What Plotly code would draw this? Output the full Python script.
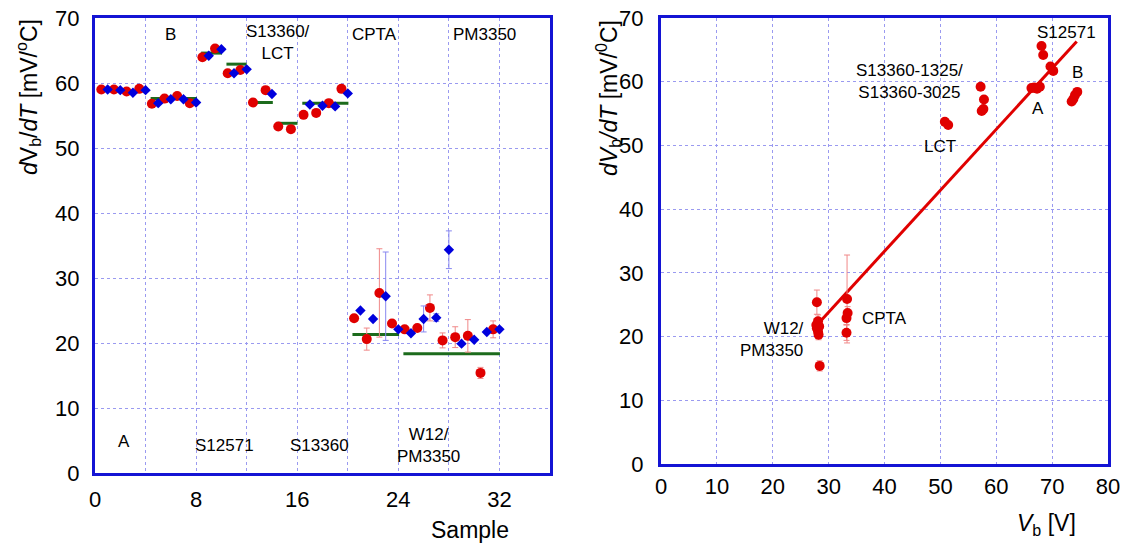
import plotly.graph_objects as go

# ---------------- Left panel data ----------------
samples = list(range(1, 33))
red_vals = [59.0, 59.0, 58.7, 59.1, 56.8, 57.6, 58.0, 56.9, 63.95, 65.3, 61.5, 62.0,
            57.0, 58.9, 53.3, 52.9, 55.1, 55.4, 56.9, 59.1,
            23.8, 20.6, 27.7, 23.0, 22.1, 22.3, 25.4, 20.4, 20.9, 21.1, 15.4, 22.1]
red_err = [0] * 20 + [0, 1.7, 6.8, 0, 0, 0, 2.0, 1.15, 1.6, 2.5, 0.85, 1.3]
blue_vals = [59.0, 58.9, 58.5, 58.9, 56.9, 57.5, 57.5, 57.0, 64.2, 65.2, 61.5, 62.1,
             None, 58.3, None, None, 56.7, 56.5, 56.4, 58.4,
             25.0, 23.7, 27.2, 22.1, 21.5, 23.7, 23.9, 34.35, 19.9, 20.5, 21.7, 22.1]
blue_err = [0] * 22 + [6.8, 0, 0, 2.0, 0.6, 2.9, 0, 0, 0, 0]
red_offset = 0.5

mean_x0 = [4.4, 8.4, 10.4, 12.5, 14.45, 16.4, 20.37, 24.4]
mean_x1 = [8.07, 10.05, 12.0, 14.07, 16.02, 20.05, 24.06, 32.04]
mean_y = [57.6, 64.6, 62.9, 57.0, 53.8, 56.9, 21.3, 18.35]

left_labels = ["A", "B", "S12571", "S13360/<br>LCT", "S13360", "CPTA", "W12/<br>PM3350", "PM3350"]
left_lab_x = [2.3, 6.0, 10.25, 14.5, 17.8, 22.1, 26.4, 30.8]
left_lab_y = [4.9, 67.4, 4.3, 66.2, 4.3, 67.4, 4.2, 67.4]

# ---------------- Right panel data ----------------
vb = [66.3, 66.8, 67.3, 67.8,            # A
      68.1, 68.4, 69.7, 70.2,            # S12571
      73.5, 73.8, 74.1, 74.5,            # B
      57.2, 57.8, 57.7, 57.4,            # S13360
      50.8, 51.4,                        # LCT
      33.3, 33.4, 33.2, 33.2,            # CPTA
      27.9, 28.1, 27.8, 28.3, 27.9, 28.1, 28.2, 28.4]  # W12/PM3350
dvdt = [59.0, 59.1, 58.9, 59.2,
        65.6, 64.2, 62.4, 61.7,
        56.9, 57.3, 57.9, 58.4,
        59.2, 57.2, 55.7, 55.4,
        53.7, 53.2,
        25.9, 23.7, 22.9, 20.6,
        25.4, 22.4, 21.8, 21.6, 21.3, 20.8, 20.3, 15.4]
dvdt_err = [0, 0, 0, 0,
            0, 0, 0, 0,
            0, 0, 0, 0,
            0, 0, 0, 0,
            0, 0,
            6.9, 1.0, 1.0, 1.2,
            1.9, 1.0, 1.0, 0.8, 0.8, 0.8, 0.8, 0.8]
fit_x = [28.4, 74.4]
fit_y = [22.3, 66.3]

right_labels = ["S12571", "S13360-1325/<br>S13360-3025", "B", "A", "LCT", "CPTA", "W12/<br>PM3350"]
right_lab_x = [72.5, 44.5, 74.6, 67.5, 49.9, 40.0, 26.0]
right_lab_y = [67.8, 60.0, 61.4, 55.8, 49.8, 22.9, 19.5]
right_lab_anchor = ["center", "center", "center", "center", "center", "center", "right"]

# ---------------- Styles ----------------
FONT = "Liberation Sans, Arial, sans-serif"
RED = "#e00000"
BLUE = "#0000dd"
GREEN = "#1c6b1c"
FRAME = "#1414d4"
GRID = "#9a9af0"

fig = go.Figure()

# mean lines
gx, gy = [], []
for a, b, c in zip(mean_x0, mean_x1, mean_y):
    gx += [a, b, None]
    gy += [c, c, None]
fig.add_trace(go.Scatter(x=gx, y=gy, mode="lines", line=dict(color=GREEN, width=3),
                         xaxis="x", yaxis="y", showlegend=False, hoverinfo="skip"))

fig.add_trace(go.Scatter(
    x=[s - red_offset for s in samples], y=red_vals, mode="markers",
    marker=dict(color=RED, size=10, symbol="circle"),
    error_y=dict(type="data", array=red_err, color="#f08888", thickness=1, width=3),
    xaxis="x", yaxis="y", showlegend=False))
fig.add_trace(go.Scatter(
    x=samples, y=blue_vals, mode="markers",
    marker=dict(color=BLUE, size=8, symbol="diamond"),
    error_y=dict(type="data", array=blue_err, color="#8888f0", thickness=1, width=3),
    xaxis="x", yaxis="y", showlegend=False))

# right panel
fig.add_trace(go.Scatter(x=fit_x, y=fit_y, mode="lines", line=dict(color=RED, width=3),
                         xaxis="x2", yaxis="y2", showlegend=False))
fig.add_trace(go.Scatter(
    x=vb, y=dvdt, mode="markers",
    marker=dict(color=RED, size=10, symbol="circle"),
    error_y=dict(type="data", array=dvdt_err, color="#f08888", thickness=1, width=3),
    xaxis="x2", yaxis="y2", showlegend=False))

axis_common = dict(showline=True, linecolor=FRAME, linewidth=3, mirror=True,
                   showgrid=True, gridcolor=GRID, griddash="dot", gridwidth=1,
                   zeroline=False, ticks="", automargin=False,
                   tickfont=dict(family=FONT, size=22, color="black"))

fig.update_layout(
    width=1133, height=548,
    margin=dict(l=0, r=0, t=0, b=0),
    paper_bgcolor="white", plot_bgcolor="white",
    xaxis=dict(domain=[95 / 1133, 550 / 1133], range=[0, 36], tickvals=[0, 8, 16, 24, 32],
               minor=dict(dtick=4, tick0=0, showgrid=True, gridcolor=GRID, griddash="dot", ticks=""),
               anchor="y", ticklabelstandoff=5, **axis_common),
    yaxis=dict(domain=[1 - 473 / 548, 1 - 18 / 548], range=[0, 70], dtick=10,
               anchor="x", ticklabelstandoff=8, **axis_common),
    xaxis2=dict(domain=[661 / 1133, 1108 / 1133], range=[0, 80], dtick=10,
                anchor="y2", ticklabelstandoff=1, **axis_common),
    yaxis2=dict(domain=[1 - 464 / 548, 1 - 18 / 548], range=[0, 70], dtick=10,
                anchor="x2", ticklabelstandoff=10, **axis_common),
)

anns = []
for t, x, y in zip(left_labels, left_lab_x, left_lab_y):
    anns.append(dict(text=t, x=x, y=y, xref="x", yref="y", showarrow=False,
                     xanchor="center", yanchor="middle",
                     font=dict(family=FONT, size=17, color="black"), align="center"))
for t, x, y, a in zip(right_labels, right_lab_x, right_lab_y, right_lab_anchor):
    anns.append(dict(text=t, x=x, y=y, xref="x2", yref="y2", showarrow=False,
                     xanchor=a, yanchor="middle",
                     font=dict(family=FONT, size=17, color="black"),
                     align="right" if a == "right" else "center"))
# axis titles
title_font = dict(family=FONT, size=23, color="black")
anns.append(dict(text="Sample", x=470 / 1133, y=1 - 530 / 548, xref="paper", yref="paper",
                 xanchor="center", yanchor="middle", showarrow=False, font=title_font))
anns.append(dict(text="<i>V</i><sub>b</sub> [V]", x=1046 / 1133, y=1 - 524 / 548, xref="paper",
                 yref="paper", xanchor="center", yanchor="middle", showarrow=False, font=title_font))
anns.append(dict(text="<i>d</i>V<sub>b</sub>/<i>dT</i> [mV/<sup>o</sup>C]", x=28 / 1133, y=1 - 97 / 548,
                 xref="paper", yref="paper", xanchor="center", yanchor="middle",
                 showarrow=False, textangle=-90, font=title_font))
anns.append(dict(text="<i>dV</i><sub>b</sub><i>/dT</i> [mV/<sup>0</sup>C]", x=608 / 1133, y=1 - 98 / 548,
                 xref="paper", yref="paper", xanchor="center", yanchor="middle",
                 showarrow=False, textangle=-90, font=title_font))
fig.update_layout(annotations=anns)

fig.write_html("out.html")
